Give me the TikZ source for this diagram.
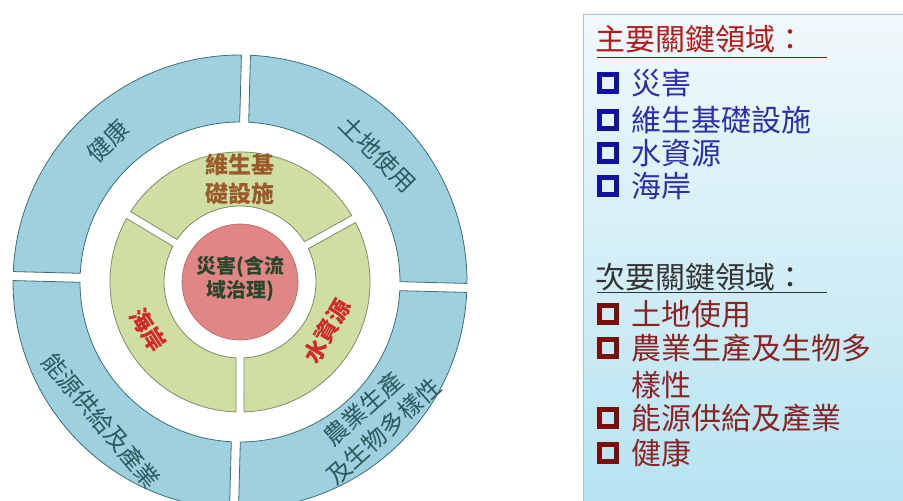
\documentclass[tikz,border=0pt]{standalone}
\usepackage{fontspec}
\setmainfont{Noto Sans CJK TC}
\usetikzlibrary{calc}
\definecolor{segblue}{HTML}{9FD0E0}
\definecolor{segblueb}{HTML}{3F6E72}
\definecolor{seggreen}{HTML}{CFDEA3}
\definecolor{seggreenb}{HTML}{7E8C6C}
\definecolor{corered}{HTML}{E08686}
\definecolor{coreredb}{HTML}{B86464}
\definecolor{ringtext}{HTML}{2C5A5C}
\definecolor{browntext}{HTML}{9A5A2A}
\definecolor{redtext}{HTML}{D02A2A}
\definecolor{coretext}{HTML}{2A462A}
\definecolor{boxtop}{HTML}{F0F9FC}
\definecolor{boxbot}{HTML}{B6E3F1}
\definecolor{boxborder}{HTML}{A9C6CE}
\definecolor{titlered}{HTML}{B01C1C}
\definecolor{listblue}{HTML}{2E2EA8}
\definecolor{bulblue}{HTML}{1212A2}
\definecolor{listred}{HTML}{8A2424}
\definecolor{bulred}{HTML}{7A0C0C}
\definecolor{titlegray}{HTML}{333333}
\newcommand\annseg[6]{%
  \pgfmathsetmacro\aoa{#4+asin(#6/#3)}%
  \pgfmathsetmacro\aob{#5-asin(#6/#3)}%
  \pgfmathsetmacro\aia{#4+asin(#6/#2)}%
  \pgfmathsetmacro\aib{#5-asin(#6/#2)}%
  \path[#1] ($(C)+(\aoa:#3)$) arc[start angle=\aoa, end angle=\aob, radius=#3]
    -- ($(C)+(\aib:#2)$) arc[start angle=\aib, end angle=\aia, radius=#2] -- cycle;%
}
\tikzset{
  outerseg/.style={fill=segblue, draw=segblueb, line width=0.8pt},
  innerseg/.style={fill=seggreen, draw=seggreenb, line width=0.8pt},
  ringtxt/.style={text=ringtext, font=\fontsize{24}{30}\selectfont, inner sep=0pt, align=center},
  greentxt/.style={font=\fontsize{23}{29}\selectfont\bfseries, inner sep=0pt, align=center},
  coretxt/.style={text=coretext, font=\fontsize{20}{24}\selectfont\bfseries, inner sep=0pt, align=center},
  listtxt/.style={font=\fontsize{30}{34}\selectfont, inner sep=0pt, anchor=west},
  bulbox/.style={draw, line width=5.5pt, minimum size=17pt, inner sep=0pt},
}
\begin{document}
\begin{tikzpicture}[x=1pt,y=1pt]
\useasboundingbox (0,0) rectangle (903,501);
\clip (0,0) rectangle (903,501);
\fill[white] (0,0) rectangle (903,501);
\coordinate (C) at (240,219);
% outer ring
\annseg{outerseg}{160}{227}{-1.5}{88.5}{4.5}
\annseg{outerseg}{160}{227}{88.5}{178.5}{4.5}
\annseg{outerseg}{160}{227}{178.5}{268.5}{4.5}
\annseg{outerseg}{160}{227}{268.5}{358.5}{4.5}
% green ring
\annseg{innerseg}{76}{130}{29}{149}{4}
\annseg{innerseg}{76}{130}{149}{270}{4}
\annseg{innerseg}{76}{130}{270}{389}{4}
% core
\node[circle, fill=corered, draw=coreredb, line width=0.6pt, minimum size=116pt, inner sep=0pt] (core) at (C) {};
% outer texts
\node[ringtxt, rotate=45] (health) at ($(C)+(133:193)$) {健康};
\node[ringtxt, rotate=-45] (land) at ($(C)+(43:188)$) {土地使用};
\node[ringtxt, rotate=-50] (energy) at ($(C)+(225:196)$) {能源供給及產業};
\node[ringtxt, rotate=42] (agri) at ($(C)+(-46:192)$) {農業生產\\及生物多樣性};
% green texts
\node[greentxt, text=browntext] (infra) at (240,322) {維生基\\礎設施};
\node[greentxt, text=redtext, rotate=-57] (coast) at (148,171) {海岸};
\node[greentxt, text=redtext, rotate=60] (water) at (327,170) {水資源};
% core text
\node[coretxt] (disaster) at (240,222) {災害(含流\\域治理)};
% right box
\shadedraw[top color=boxtop, bottom color=boxbot, draw=boxborder, line width=0.8pt] (583,-5) rectangle (910,487);
\node[listtxt, text=titlered] (t1) at (595,462) {主要關鍵領域：};
\draw[titlered!80!black, line width=1pt] (597,443) -- (827,443);
\node[bulbox, draw=bulblue] (b1) at (608,418) {};
\node[listtxt, text=listblue] (i1) at (631,418) {災害};
\node[bulbox, draw=bulblue] (b2) at (608,381) {};
\node[listtxt, text=listblue] (i2) at (631,381) {維生基礎設施};
\node[bulbox, draw=bulblue] (b3) at (608,348) {};
\node[listtxt, text=listblue] (i3) at (631,348) {水資源};
\node[bulbox, draw=bulblue] (b4) at (608,315) {};
\node[listtxt, text=listblue] (i4) at (631,315) {海岸};
\node[listtxt, text=titlegray] (t2) at (595,224) {次要關鍵領域：};
\draw[titlegray, line width=1pt] (597,208) -- (827,208);
\node[bulbox, draw=bulred] (c1) at (608,187) {};
\node[listtxt, text=listred] (j1) at (631,187) {土地使用};
\node[bulbox, draw=bulred] (c2) at (608,153) {};
\node[listtxt, text=listred] (j2) at (631,153) {農業生產及生物多};
\node[listtxt, text=listred] (j2b) at (631,116) {樣性};
\node[bulbox, draw=bulred] (c3) at (608,83) {};
\node[listtxt, text=listred] (j3) at (631,83) {能源供給及產業};
\node[bulbox, draw=bulred] (c4) at (608,48) {};
\node[listtxt, text=listred] (j4) at (631,48) {健康};
\end{tikzpicture}
\end{document}
